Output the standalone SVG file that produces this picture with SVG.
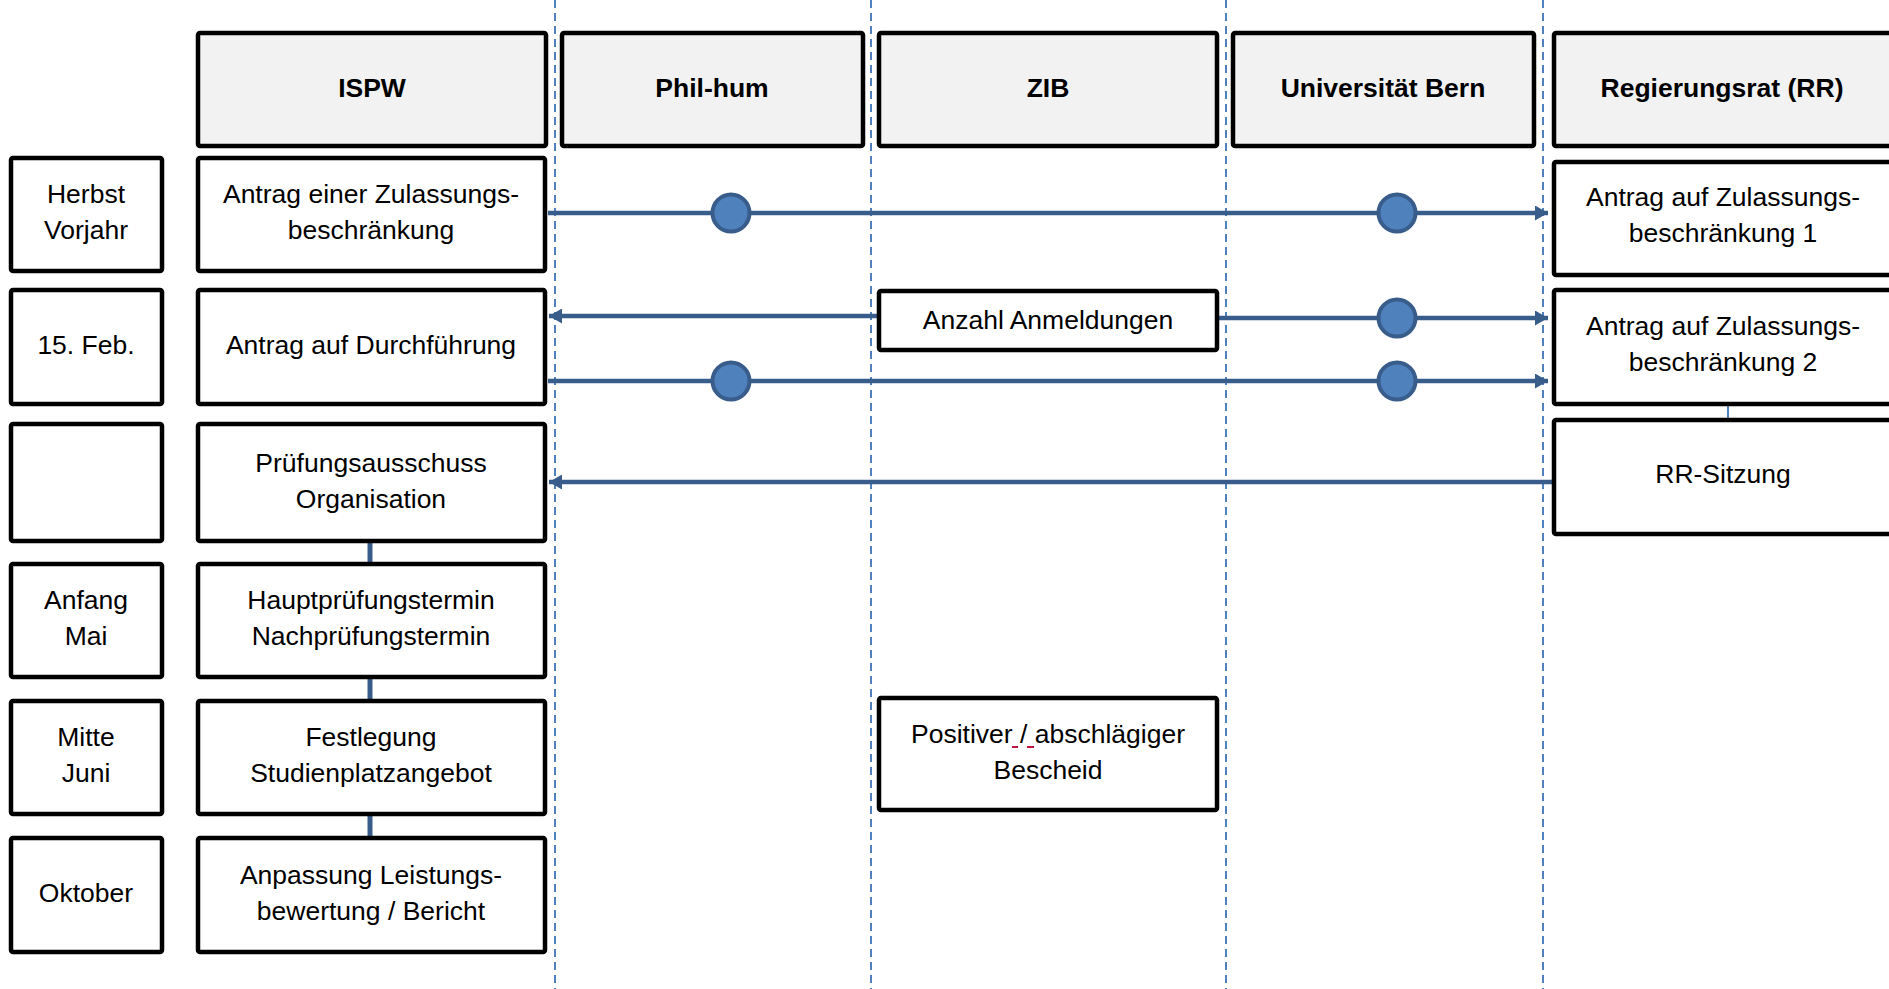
<svg xmlns="http://www.w3.org/2000/svg" width="1889" height="989" viewBox="0 0 1889 989">
<style>
.box{fill:#ffffff;stroke:#000000;stroke-width:4.5}
.hdr{fill:#f2f2f2;stroke:#000000;stroke-width:4.5}
.t{font-family:"Liberation Sans",Arial,sans-serif;font-size:26.5px;fill:#000000;text-anchor:middle}
.b{font-weight:bold}
.lane{stroke:#4f81bd;stroke-width:2;stroke-dasharray:8,5;fill:none}
.flow{stroke:#385d8a;stroke-width:4.5;fill:none}
.dot{fill:#4f81bd;stroke:#385d8a;stroke-width:4}
</style>
<defs>
<marker id="ah" viewBox="0 0 13 15" refX="13" refY="7.5" markerWidth="13" markerHeight="15" markerUnits="userSpaceOnUse" orient="auto">
<path d="M0,0 L13,7.5 L0,15 Z" fill="#385d8a"/>
</marker>
</defs>
<rect width="1889" height="989" fill="#ffffff"/>
<g id="lanes">
<line class="lane" x1="555" y1="0" x2="555" y2="989"/>
<line class="lane" x1="871" y1="0" x2="871" y2="989"/>
<line class="lane" x1="1226" y1="0" x2="1226" y2="989"/>
<line class="lane" x1="1543" y1="0" x2="1543" y2="989"/>
</g>
<g id="headers">
<g id="h-ispw"><rect class="hdr" x="198" y="33" width="348" height="113" rx="2"/><text class="t b" x="372" y="97">ISPW</text></g>
<g id="h-philhum"><rect class="hdr" x="562" y="33" width="301" height="113" rx="2"/><text class="t b" x="712" y="97">Phil-hum</text></g>
<g id="h-zib"><rect class="hdr" x="879" y="33" width="338" height="113" rx="2"/><text class="t b" x="1048" y="97">ZIB</text></g>
<g id="h-uni"><rect class="hdr" x="1233" y="33" width="301" height="113" rx="2"/><text class="t b" x="1383" y="97">Universität Bern</text></g>
<g id="h-rr"><rect class="hdr" x="1554" y="33" width="340" height="113" rx="2"/><text class="t b" x="1722" y="97">Regierungsrat (RR)</text></g>
</g>
<g id="connectors">
<line class="flow" x1="548" y1="213" x2="1548" y2="213" marker-end="url(#ah)"/>
<line class="flow" x1="877" y1="316" x2="549" y2="316" marker-end="url(#ah)"/>
<line class="flow" x1="1219" y1="318" x2="1548" y2="318" marker-end="url(#ah)"/>
<line class="flow" x1="548" y1="381" x2="1548" y2="381" marker-end="url(#ah)"/>
<line class="flow" x1="1552" y1="482" x2="549" y2="482" marker-end="url(#ah)"/>
<line stroke="#385d8a" stroke-width="5" x1="370" y1="543" x2="370" y2="562"/>
<line stroke="#385d8a" stroke-width="5" x1="370" y1="679" x2="370" y2="699"/>
<line stroke="#385d8a" stroke-width="5" x1="370" y1="816" x2="370" y2="836"/>
<line stroke="#4f81bd" stroke-width="2" x1="1728" y1="406" x2="1728" y2="418"/>
<circle class="dot" cx="731" cy="213" r="18.5"/>
<circle class="dot" cx="1397" cy="213" r="18.5"/>
<circle class="dot" cx="1397" cy="318" r="18.5"/>
<circle class="dot" cx="731" cy="381" r="18.5"/>
<circle class="dot" cx="1397" cy="381" r="18.5"/>
</g>
<g id="time">
<g id="t1"><rect class="box" x="11" y="158" width="151" height="113" rx="2"/><text class="t" x="86" y="203">Herbst</text><text class="t" x="86" y="239">Vorjahr</text></g>
<g id="t2"><rect class="box" x="11" y="290" width="151" height="114" rx="2"/><text class="t" x="86" y="354">15. Feb.</text></g>
<g id="t3"><rect class="box" x="11" y="424" width="151" height="117" rx="2"/></g>
<g id="t4"><rect class="box" x="11" y="564" width="151" height="113" rx="2"/><text class="t" x="86" y="609">Anfang</text><text class="t" x="86" y="645">Mai</text></g>
<g id="t5"><rect class="box" x="11" y="701" width="151" height="113" rx="2"/><text class="t" x="86" y="746">Mitte</text><text class="t" x="86" y="782">Juni</text></g>
<g id="t6"><rect class="box" x="11" y="838" width="151" height="114" rx="2"/><text class="t" x="86" y="902">Oktober</text></g>
</g>
<g id="ispw">
<g id="i1"><rect class="box" x="198" y="158" width="347" height="113" rx="2"/><text class="t" x="371" y="203">Antrag einer Zulassungs-</text><text class="t" x="371" y="239">beschränkung</text></g>
<g id="i2"><rect class="box" x="198" y="290" width="347" height="114" rx="2"/><text class="t" x="371" y="354">Antrag auf Durchführung</text></g>
<g id="i3"><rect class="box" x="198" y="424" width="347" height="117" rx="2"/><text class="t" x="371" y="472">Prüfungsausschuss</text><text class="t" x="371" y="508">Organisation</text></g>
<g id="i4"><rect class="box" x="198" y="564" width="347" height="113" rx="2"/><text class="t" x="371" y="609">Hauptprüfungstermin</text><text class="t" x="371" y="645">Nachprüfungstermin</text></g>
<g id="i5"><rect class="box" x="198" y="701" width="347" height="113" rx="2"/><text class="t" x="371" y="746">Festlegung</text><text class="t" x="371" y="782">Studienplatzangebot</text></g>
<g id="i6"><rect class="box" x="198" y="838" width="347" height="114" rx="2"/><text class="t" x="371" y="884">Anpassung Leistungs-</text><text class="t" x="371" y="920">bewertung / Bericht</text></g>
</g>
<g id="zib">
<g id="z1"><rect class="box" x="879" y="291" width="338" height="59" rx="2"/><text class="t" x="1048" y="329">Anzahl Anmeldungen</text></g>
<g id="z2"><rect class="box" x="879" y="698" width="338" height="112" rx="2"/><text class="t" x="1048" y="743">Positiver / abschlägiger</text><text class="t" x="1048" y="779">Bescheid</text>
<path d="M1012,747 H1018 M1027,747 H1034" stroke="#c0143c" stroke-width="2"/></g>
</g>
<g id="rr">
<g id="r1"><rect class="box" x="1554" y="162" width="340" height="113" rx="2"/><text class="t" x="1723" y="206">Antrag auf Zulassungs-</text><text class="t" x="1723" y="242">beschränkung 1</text></g>
<g id="r2"><rect class="box" x="1554" y="290" width="340" height="114" rx="2"/><text class="t" x="1723" y="335">Antrag auf Zulassungs-</text><text class="t" x="1723" y="371">beschränkung 2</text></g>
<g id="r3"><rect class="box" x="1554" y="420" width="340" height="114" rx="2"/><text class="t" x="1723" y="483">RR-Sitzung</text></g>
</g>
</svg>
